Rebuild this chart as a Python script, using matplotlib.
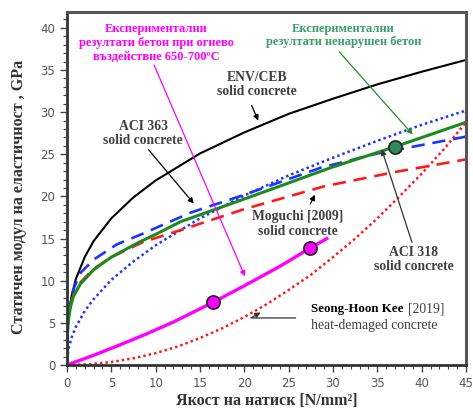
import matplotlib.pyplot as plt
from matplotlib.ticker import MultipleLocator

# ENV/CEB solid concrete (black)
fc_env = [0, 0.02, 0.1, 0.3, 0.5, 1, 2, 3, 5, 7.5, 10, 15, 20, 25, 30, 35, 40, 45]
e_env = [0, 2.8, 4.7, 6.8, 8.1, 10.2, 12.8, 14.7, 17.4, 19.9, 21.9, 25.1, 27.6, 29.8, 31.6, 33.3, 34.8, 36.2]

# ACI 363 solid concrete (blue dashed)
fc_363 = [0.05, 0.1, 0.34, 0.71, 1.5, 3, 5.6, 8.6, 11.6, 14, 20, 28.6, 35, 40, 45]
e_363 = [3.5, 5.0, 6.9, 8.9, 10.9, 12.5, 14.3, 15.6, 17.0, 18.1, 20.2, 23.4, 25.1, 26.1, 27.1]

# ACI 318 solid concrete (blue dotted)
fc_318 = [0, 0.05, 0.2, 0.5, 1, 2, 3, 5, 7.5, 10, 15, 20, 25, 30, 35, 40, 45]
e_318 = [0, 1.0, 2.0, 3.2, 4.5, 6.4, 7.8, 10.1, 12.3, 14.2, 17.4, 20.1, 22.5, 24.6, 26.6, 28.5, 30.2]

# Moguchi [2009] solid concrete (red dashed)
fc_mog = [0, 0.02, 0.1, 0.3, 0.71, 1.5, 3, 5, 8.6, 12.8, 20, 29, 37, 45]
e_mog = [0, 3.0, 5.5, 7.0, 8.3, 9.8, 11.4, 12.8, 14.6, 16.0, 18.5, 21.2, 22.9, 24.4]

# experimental, undamaged concrete (green)
fc_exp = [0, 0.05, 0.15, 0.4, 0.71, 1.5, 3, 5, 8, 10, 12.8, 20, 25, 29.7, 37, 45]
e_exp = [0, 3.5, 5.3, 6.9, 8.1, 9.6, 11.3, 12.8, 14.5, 15.5, 17.0, 19.7, 21.6, 23.4, 25.9, 28.8]
exp_pt = (37.0, 25.9)

# experimental, fire exposure 650-700 C (magenta)
fc_fire = [0, 3, 6, 9, 12, 16.5, 20, 24, 27.4, 29.3]
e_fire = [0, 1.15, 2.4, 3.7, 5.1, 7.45, 9.4, 11.7, 13.86, 15.0]
fire_pts_x = [16.5, 27.4]
fire_pts_y = [7.45, 13.86]

# Seong-Hoon Kee [2019] heat-damaged concrete (red dotted)
fc_kee = [0, 2.5, 5, 7.5, 10, 12.5, 15, 17.5, 20, 22.5, 25, 27.5, 30, 32.5, 35, 37.5, 40, 42.5, 45]
e_kee = [0, 0.09, 0.35, 0.8, 1.4, 2.2, 3.2, 4.35, 5.7, 7.2, 8.9, 10.7, 12.8, 15.0, 17.4, 20.0, 22.7, 25.6, 28.8]

plt.rcParams['font.family'] = 'DejaVu Sans'
fig = plt.figure(figsize=(4.73, 4.12), dpi=100)
ax = fig.add_axes([0.1416, 0.1141, 0.8436, 0.857])

ax.plot(fc_env, e_env, color='black', lw=1.5)
ax.plot(fc_318, e_318, color='#2233ff', lw=1.8, linestyle=(0, (1, 1.2)))
ax.plot(fc_mog, e_mog, color='#ff1a1a', lw=1.9, linestyle=(0, (5, 3)))
ax.plot(fc_363, e_363, color='#1a35ff', lw=1.9, linestyle=(0, (5, 3)))
ax.plot(fc_exp, e_exp, color='#1e8a1e', lw=2.2)
ax.plot(fc_kee, e_kee, color='#ff1a1a', lw=1.8, linestyle=(0, (1, 1.2)))
ax.plot(fc_fire, e_fire, color='#ff00ff', lw=2.4)
ax.plot(fire_pts_x, fire_pts_y, 'o', color='#ff00ff', mec='#222222', mew=1.2, ms=9.5, zorder=5)
ax.plot([exp_pt[0]], [exp_pt[1]], 'o', color='#2e8b57', mec='#222222', mew=1.2, ms=9.5, zorder=5)

ax.set_xlim(0, 45)
ax.set_ylim(0, 41.9)
ax.xaxis.set_major_locator(MultipleLocator(5))
ax.xaxis.set_minor_locator(MultipleLocator(1))
ax.yaxis.set_major_locator(MultipleLocator(5))
ax.yaxis.set_minor_locator(MultipleLocator(1))
ax.tick_params(which='major', length=5, width=1, color='#444444', labelsize=8.5, labelcolor='#555555')
ax.tick_params(which='minor', length=3, width=0.8, color='#444444')
for side in ['left', 'bottom']:
    ax.spines[side].set_linewidth(2)
    ax.spines[side].set_color('#333333')
for side in ['right', 'top']:
    ax.spines[side].set_linewidth(2.2)
    ax.spines[side].set_color('#555555')

serif = 'Liberation Serif'
ax.set_xlabel('Якост на натиск [N/mm²]', family=serif, fontweight='bold', fontsize=11.5, color='#333333', labelpad=2)
ax.set_ylabel('Статичен модул на еластичност , GPa', family=serif, fontweight='bold', fontsize=11.5, color='#333333')
ax.yaxis.set_label_coords(-0.1, 0.475)

gray = '#404040'
tk = dict(family=serif, fontweight='bold', fontsize=9, ha='center', va='center', linespacing=1.2)
tl = dict(family=serif, fontweight='bold', fontsize=9.8, ha='center', va='center', linespacing=1.15)

ax.text(21.4, 33.3, 'ENV/CEB\nsolid concrete', color=gray, **tl)
ax.annotate('', xy=(21.7, 28.7), xytext=(20.7, 31.1),
            arrowprops=dict(arrowstyle='-|>', color='black', lw=0.9, mutation_scale=8))

ax.text(8.6, 27.5, 'ACI 363\nsolid concrete', color=gray, **tl)
ax.annotate('', xy=(14.5, 18.9), xytext=(9.0, 25.8),
            arrowprops=dict(arrowstyle='-|>', color='black', lw=0.9, mutation_scale=8))

ax.text(10.1, 38.2, 'Експериментални\nрезултати бетон при огнево\nвъздействие 650-700ºC',
        color='#ff00ff', **tk)
ax.annotate('', xy=(20.2, 10.2), xytext=(9.7, 35.9),
            arrowprops=dict(arrowstyle='-|>', color='#ff00ff', lw=0.9, mutation_scale=8))

ax.text(31.2, 39.1, 'Експериментални\nрезултати ненарушен бетон', color='#3c9e6e', **tk)
ax.annotate('', xy=(39.2, 27.1), xytext=(30.5, 37.4),
            arrowprops=dict(arrowstyle='-|>', color='#2a8a2a', lw=0.9, mutation_scale=8))

ax.text(26.0, 16.75, 'Moguchi [2009]\nsolid concrete', color=gray, **tl)
ax.annotate('', xy=(28.1, 20.5), xytext=(27.3, 18.8),
            arrowprops=dict(arrowstyle='-|>', color='black', lw=0.9, mutation_scale=8))

ax.text(39.1, 12.5, 'ACI 318\nsolid concrete', color=gray, **tl)
ax.annotate('', xy=(35.4, 25.9), xytext=(39.0, 14.25),
            arrowprops=dict(arrowstyle='-|>', color='#333333', lw=0.9, mutation_scale=8))

ax.text(27.5, 6.6, 'Seong-Hoon Kee', color='black', family=serif, fontweight='bold',
        fontsize=9.3, ha='left', va='center')
ax.text(38.5, 6.6, '[2019]', color=gray, family=serif, fontsize=9.8, ha='left', va='center')
ax.text(27.5, 4.7, 'heat-demaged concrete', color=gray, family=serif, fontsize=9.8,
        ha='left', va='center')
ax.annotate('', xy=(22.1, 6.4), xytext=(26.1, 5.58),
            arrowprops=dict(arrowstyle='-|>', color='#333333', lw=0.9, mutation_scale=8,
                            connectionstyle='angle,angleA=0,angleB=30,rad=0'))

fig.savefig('out.png', dpi=100)
